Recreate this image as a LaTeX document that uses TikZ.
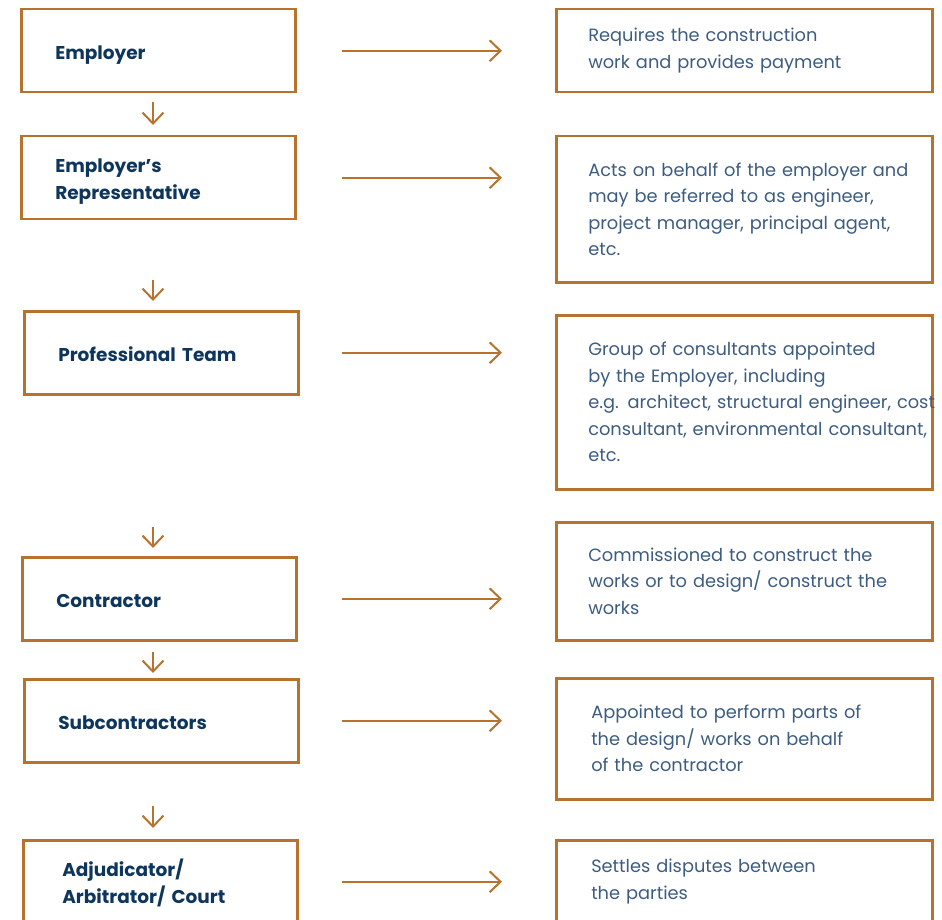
\documentclass[tikz,border=0pt]{standalone}
\usepackage{fontspec}
\setmainfont{Poppins}
\usepackage{tikz}
\usetikzlibrary{arrows.meta}
\usetikzlibrary{calc}
\definecolor{cobre}{RGB}{183,114,46}
\definecolor{marino}{RGB}{14,54,92}
\definecolor{pizarra}{RGB}{60,92,130}

\begin{document}
\begin{tikzpicture}[
    x=1pt, y=-1pt, % un punto por pixel, eje y hacia abajo
    caja/.style={draw=cobre, line width=2.5pt, anchor=north west, inner ysep=0pt, align=left}, % Marco comun
    rol/.style={caja, inner xsep=34pt, text width=206pt, minimum height=83pt,
        text=marino, font=\bfseries\fontsize{18.5}{27}\selectfont,
        execute at begin node=\rule{0pt}{25pt}}, % Cajas de la izquierda (texto algo bajado)
    desc/.style={caja, inner xsep=32pt, text width=312pt,
        text=pizarra, font=\fontsize{17.8}{26.5}\selectfont}, % Cajas de la derecha
    flecha/.style={draw=cobre, line width=2pt, -{Straight Barb[length=11pt, width=21pt]}} % Flechas abiertas
]
    \clip (0,0) rectangle (942,920); % Marco de la figura

    % --- Cajas de los participantes ---
    \node[rol] (emp)  at (20,8)   {Employer\strut};
    \node[rol] (rep)  at (20,135) {Employer’s\\ Representative\strut};
    \node[rol] (prof) at (23,310) {Professional Team\strut};
    \node[rol] (con)  at (21,556) {Contractor\strut};
    \node[rol] (sub)  at (23,678) {Subcontractors\strut};
    \node[rol, inner xsep=39pt, text width=196pt] (adj) at (22,839) {Adjudicator/\\ Arbitrator/ Court\strut};

    % --- Cajas de descripcion ---
    \node[desc, minimum height=83pt]  (empd)  at (555,8)   {Requires the construction\\ work and provides payment};
    \node[desc, minimum height=146pt] (repd)  at (555,135) {\mbox{Acts on behalf of the employer and}\\ \mbox{may be referred to as engineer,}\\ \mbox{project manager, principal agent,}\\ etc.};
    \node[desc, minimum height=174pt] (profd) at (555,314) {Group of consultants appointed\\ by the Employer, including\\ \mbox{e.g. architect, structural engineer, cost}\\ \mbox{consultant, environmental consultant,}\\ etc.};
    \node[desc, minimum height=118pt] (cond)  at (555,521) {Commissioned to construct the\\ \mbox{works or to design/ construct the}\\ works};
    \node[desc, minimum height=121pt, inner xsep=35pt, text width=306pt] (subd) at (555,677) {Appointed to perform parts of\\ the design/ works on behalf\\ of the contractor};
    \node[desc, minimum height=83pt, inner xsep=35pt, text width=306pt]  (adjd) at (555,839) {Settles disputes between\\ the parties};

    % --- Flechas hacia abajo ---
    \coordinate (eje) at (153,0); % Columna de las flechas verticales
    \draw[flecha, shorten <=9pt, shorten >=10pt]  (emp.south -| eje)  -- (rep.north -| eje);
    \draw[flecha, shorten <=59pt, shorten >=9pt]  (rep.south -| eje)  -- (prof.north -| eje);
    \draw[flecha, shorten <=131pt, shorten >=8pt] (prof.south -| eje) -- (con.north -| eje);
    \draw[flecha, shorten <=10pt, shorten >=5pt]  (con.south -| eje)  -- (sub.north -| eje);
    \draw[flecha, shorten <=42pt, shorten >=11pt] (sub.south -| eje)  -- (adj.north -| eje);

    % --- Flechas hacia las descripciones ---
    \coordinate (salida) at (342,0); % Inicio comun de las flechas horizontales
    \foreach \a/\b in {emp/empd, rep/repd, prof/profd, con/cond, sub/subd, adj/adjd}
        \draw[flecha, shorten >=53pt] (\a.east -| salida) -- (\a.east -| \b.west);
\end{tikzpicture}
\end{document}
